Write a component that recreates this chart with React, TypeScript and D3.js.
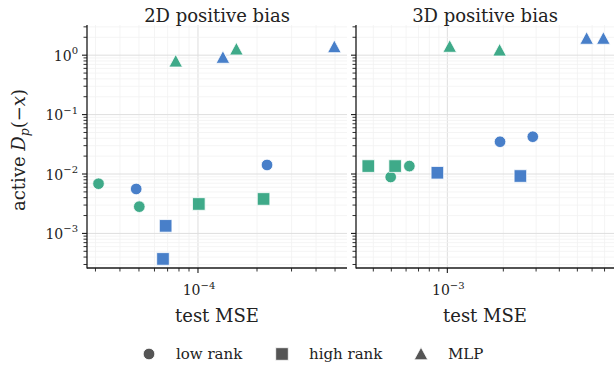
import React from "react";
import * as d3 from "d3";

const titles = ["2D positive bias", "3D positive bias"];
const kinds = ["low rank", "high rank", "MLP"];

// 2D positive bias
const mse2d = [3.11e-5, 4.84e-5, 5.02e-5, 2.25e-4, 6.84e-5, 6.63e-5, 1.01e-4, 2.16e-4, 7.7e-5, 1.34e-4, 1.57e-4, 4.96e-4];
const dp2d = [6.87e-3, 5.6e-3, 2.82e-3, 1.42e-2, 1.34e-3, 3.72e-4, 3.13e-3, 3.8e-3, 0.79, 0.915, 1.26, 1.38];
const kind2d = [0, 0, 0, 0, 1, 1, 1, 1, 2, 2, 2, 2];
const hue2d = ["g", "b", "g", "b", "b", "b", "g", "g", "g", "b", "g", "b"];

// 3D positive bias
const mse3d = [6.25e-4, 4.96e-4, 1.92e-3, 2.88e-3, 3.76e-4, 5.24e-4, 8.84e-4, 2.47e-3, 1.03e-3, 1.91e-3, 5.61e-3, 6.9e-3];
const dp3d = [1.36e-2, 8.9e-3, 3.49e-2, 4.24e-2, 1.36e-2, 1.36e-2, 1.05e-2, 9.25e-3, 1.4, 1.21, 1.91, 1.91];
const kind3d = [0, 0, 0, 0, 1, 1, 1, 1, 2, 2, 2, 2];
const hue3d = ["g", "g", "b", "b", "g", "g", "b", "b", "g", "g", "b", "b"];

const colors: Record<string, string> = { g: "#2fa37f", b: "#3874c4" };
const FONT = "DejaVu Serif";

const marker = (k: number, x: number, y: number) => {
  if (k === 0) {
    const p = d3.path();
    p.arc(x, y, 5.8, 0, 2 * Math.PI);
    return p.toString();
  }
  if (k === 1) {
    const s = 6.3;
    return `M${x - s},${y - s}H${x + s}V${y + s}H${x - s}Z`;
  }
  const s = 6.8;
  return `M${x},${y - s}L${x + s},${y + s * 0.85}L${x - s},${y + s * 0.85}Z`;
};

const yScale = d3.scaleLog().domain([10 ** -3.582, 10 ** 0.508]).range([268, 25]);

const panels = [
  { title: titles[0], x: mse2d, y: dp2d, k: kind2d, h: hue2d, range: [87, 347], domain: [10 ** -4.566, 10 ** -3.24], labels: true },
  { title: titles[1], x: mse3d, y: dp3d, k: kind3d, h: hue3d, range: [356, 614], domain: [10 ** -3.491, 10 ** -2.104], labels: false },
];

const isMajor = (v: number) => Math.abs(Math.log10(v) - Math.round(Math.log10(v))) < 1e-6;

const Pow = ({ exp }: { exp: number }) => (
  <>
    10
    <tspan dy={-6.5} fontSize={10}>{exp < 0 ? `\u2212${-exp}` : exp}</tspan>
  </>
);

export default function App() {
  const yTicks = yScale.ticks();
  const top = 25;
  const bottom = 268;
  return (
    <div style={{ position: "fixed", left: 0, top: 0 }}>
      <svg width={615} height={365} fontFamily={FONT} style={{ display: "block", background: "#fff" }}>
        {panels.map((pn, pi) => {
          const x = d3.scaleLog().domain(pn.domain).range(pn.range);
          const xTicks = x.ticks();
          const [x0, x1] = pn.range;
          return (
            <g key={pi}>
              {/* grid */}
              {xTicks.map((t, i) => (
                <line key={"xg" + i} x1={x(t)} x2={x(t)} y1={top} y2={bottom}
                  stroke={isMajor(t) ? "#dedede" : "#f1f1f1"} strokeWidth={isMajor(t) ? 1 : 0.8} />
              ))}
              {yTicks.map((t, i) => (
                <line key={"yg" + i} x1={x0} x2={x1} y1={yScale(t)} y2={yScale(t)}
                  stroke={isMajor(t) ? "#dedede" : "#f1f1f1"} strokeWidth={isMajor(t) ? 1 : 0.8} />
              ))}
              {/* points */}
              {pn.x.map((v, i) => (
                <path key={"p" + i} d={marker(pn.k[i], x(v), yScale(pn.y[i]))}
                  fill={colors[pn.h[i]]} fillOpacity={0.92} stroke="#fff" strokeWidth={0.8} />
              ))}
              {/* spines */}
              <line x1={x0} x2={x0} y1={top} y2={bottom + 0.6} stroke="#1a1a1a" strokeWidth={1.3} />
              <line x1={x0} x2={x1} y1={bottom} y2={bottom} stroke="#1a1a1a" strokeWidth={1.3} />
              {/* ticks */}
              {yTicks.map((t, i) => (
                <line key={"yt" + i} x1={x0 - (isMajor(t) ? 5 : 3.5)} x2={x0} y1={yScale(t)} y2={yScale(t)}
                  stroke="#1a1a1a" strokeWidth={isMajor(t) ? 1.1 : 0.9} />
              ))}
              {xTicks.map((t, i) => (
                <line key={"xt" + i} x1={x(t)} x2={x(t)} y1={bottom} y2={bottom + (isMajor(t) ? 5 : 3.5)}
                  stroke="#1a1a1a" strokeWidth={isMajor(t) ? 1.1 : 0.9} />
              ))}
              {xTicks.filter(isMajor).map((t, i) => (
                <text key={"xl" + i} x={x(t) + 1} y={295} textAnchor="middle" fontSize={14} fill="#222">
                  <Pow exp={Math.round(Math.log10(t))} />
                </text>
              ))}
              {pn.labels && yTicks.filter(isMajor).map((t, i) => (
                <text key={"yl" + i} x={x0 - 9} y={yScale(t) + 5.5} textAnchor="end" fontSize={14} fill="#222">
                  <Pow exp={Math.round(Math.log10(t))} />
                </text>
              ))}
              <text x={(x0 + x1) / 2} y={22} textAnchor="middle" fontSize={18} fill="#222">{pn.title}</text>
              <text x={(x0 + x1) / 2} y={322} textAnchor="middle" fontSize={18} fill="#222">test MSE</text>
            </g>
          );
        })}
        <text transform={`translate(25,150) rotate(-90)`} textAnchor="middle" fontSize={18} fill="#222">
          active <tspan fontStyle="italic">D</tspan>
          <tspan fontStyle="italic" fontSize={12.5} dy={4}>p</tspan>
          <tspan dy={-4}>(−</tspan>
          <tspan fontStyle="italic">x</tspan>
          <tspan>)</tspan>
        </text>
        {/* legend */}
        {kinds.map((name, i) => {
          const mx = [149, 282, 421][i];
          return (
            <g key={"lg" + i}>
              <path d={marker(i, mx, 354)} fill="#555" stroke="#fff" strokeWidth={0.8} />
              <text x={mx + 27} y={359} fontSize={15} fill="#222">{name}</text>
            </g>
          );
        })}
      </svg>
    </div>
  );
}
